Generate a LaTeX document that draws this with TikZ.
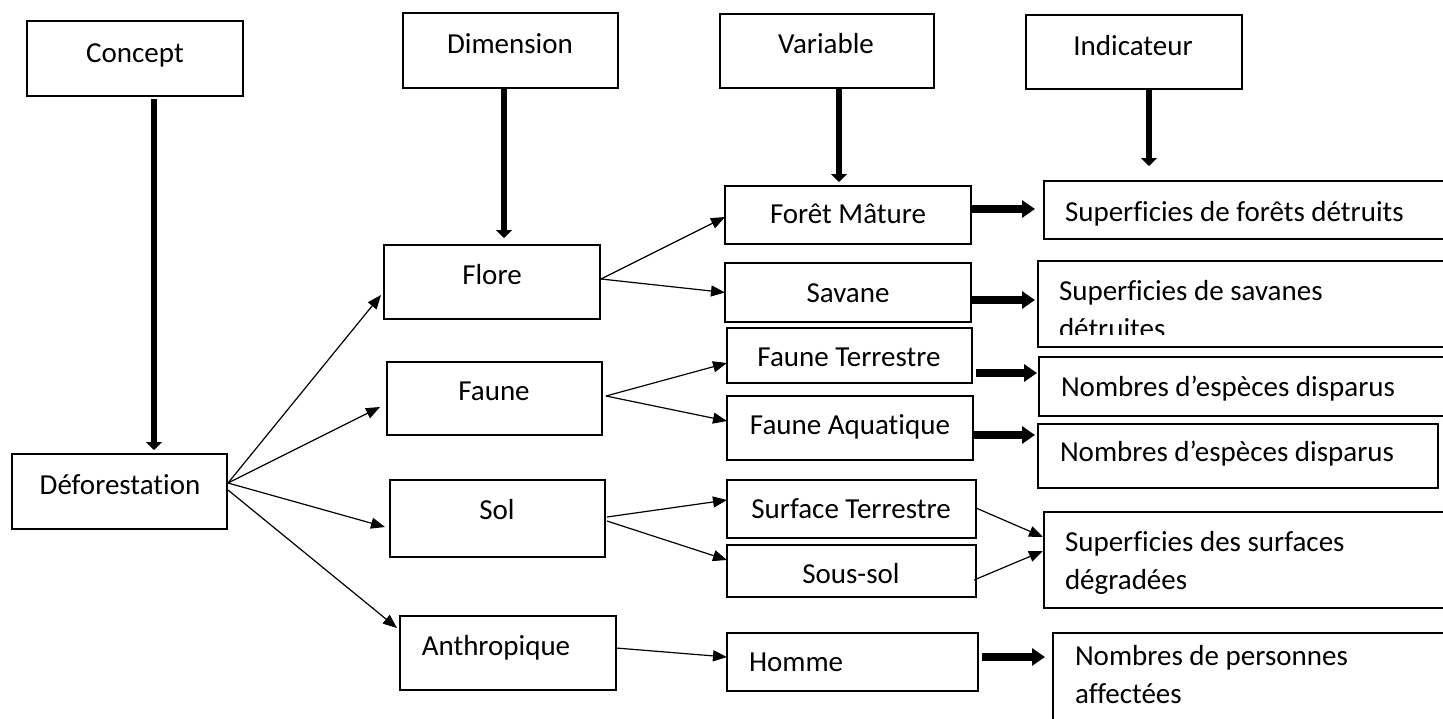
\documentclass[tikz,border=0pt]{standalone}
\usepackage{fontspec}
\setmainfont{Carlito}[Ligatures={NoCommon}]
\usetikzlibrary{arrows.meta,calc}
\newcommand\diagfs{\fontsize{29pt}{38pt}\selectfont}
\begin{document}
\begin{tikzpicture}[x=1pt,y=-1pt,
  box/.style={draw, line width=2pt, inner sep=0pt, outer sep=0pt, rectangle},
  txt/.style={font=\diagfs, inner sep=0pt, outer sep=0pt, anchor=base},
  ltxt/.style={font=\diagfs, inner sep=0pt, outer sep=0pt, anchor=base west, align=left},
  thinarr/.style={line width=1.2pt, -{Triangle[length=14pt,width=11pt]}},
  thickh/.style={line width=8pt, -{Triangle[length=13pt,width=17pt]}},
  thickv/.style={line width=6.5pt, -{Triangle[length=8pt,width=16pt]}}]
\useasboundingbox (0,0) rectangle (1443,718);
\clip (0,0) rectangle (1443,718);
\fill[white] (0,0) rectangle (1443,718);

% header boxes
\node[box, minimum width=216pt, minimum height=75pt] (concept) at (135,58.5) {};
\node[box, minimum width=215pt, minimum height=75pt] (dimension) at (510.5,50.5) {};
\node[box, minimum width=214pt, minimum height=74pt] (variable) at (827,51) {};
\node[box, minimum width=216pt, minimum height=74pt] (indicateur) at (1134,52) {};
% concept / dimension boxes
\node[box, minimum width=215pt, minimum height=75pt] (defo) at (119.5,491.5) {};
\node[box, minimum width=216pt, minimum height=74pt] (flore) at (492,282) {};
\node[box, minimum width=215pt, minimum height=73pt] (faune) at (494.5,398.5) {};
\node[box, minimum width=215pt, minimum height=77pt] (sol) at (497.5,518.5) {};
\node[box, minimum width=216pt, minimum height=74pt] (anthro) at (508,653) {};
% variable boxes
\node[box, minimum width=246pt, minimum height=58pt] (foret) at (848,215) {};
\node[box, minimum width=246pt, minimum height=59pt] (savane) at (848,292.5) {};
\node[box, minimum width=245pt, minimum height=55pt] (fterr) at (849.5,355.5) {};
\node[box, minimum width=246pt, minimum height=64pt] (faqua) at (850,428) {};
\node[box, minimum width=249pt, minimum height=58pt] (sterr) at (851.5,509) {};
\node[box, minimum width=249pt, minimum height=52pt] (soussol) at (851.5,571) {};
\node[box, minimum width=251pt, minimum height=58pt] (homme) at (852.5,662) {};
% indicator boxes
\node[box, minimum width=408pt, minimum height=58pt] (supfor) at (1248,210) {};
\node[box, minimum width=414pt, minimum height=86pt] (supsav) at (1245,304) {};
\node[box, minimum width=413pt, minimum height=59pt] (nomb1) at (1245.5,386.5) {};
\node[box, minimum width=400pt, minimum height=64pt] (nomb2) at (1238,456) {};
\node[box, minimum width=408pt, minimum height=96pt] (supsurf) at (1248,560) {};
\node[box, minimum width=399pt, minimum height=95pt] (pers) at (1252.5,680.5) {};

% texts
\node[txt] (conceptT) at (135,62) {Concept};
\node[txt] (dimensionT) at (510,53) {Dimension};
\node[txt] (variableT) at (826,53) {Variable};
\node[txt] (indicT) at (1133,55) {Indicateur};
\node[txt] (defoT) at (120,494) {Déforestation};
\node[txt] (floreT) at (492,284) {Flore};
\node[txt] (fauneT) at (494,400) {Faune};
\node[txt] (solT) at (497,519) {Sol};
\node[txt] (anthroT) at (496,655) {Anthropique};
\node[txt] (foretT) at (848,223) {Forêt Mâture};
\node[txt] (savaneT) at (848,302) {Savane};
\node[txt] (fterrT) at (849,366) {Faune Terrestre};
\node[txt] (faquaT) at (850,434) {Faune Aquatique};
\node[txt] (sterrT) at (851,518) {Surface Terrestre};
\node[txt] (soussolT) at (851,583) {Sous-sol};
\node[ltxt] (hommeT) at (749,671) {Homme};
\node[ltxt] (supforT) at (1065,221) {Superficies de forêts détruits};
\begin{scope}
\clip (1030,255) rectangle (1443,334);
\node[ltxt] (supsavT) at (1059,338) {Superficies de savanes\\détruites};
\end{scope}
\node[ltxt] (nomb1T) at (1061,396) {Nombres d’espèces disparus};
\node[ltxt] (nomb2T) at (1060,461) {Nombres d’espèces disparus};
\node[ltxt] (supsurfT) at (1065,589) {Superficies des surfaces\\dégradées};
\node[ltxt] (persT) at (1075,703) {Nombres de personnes\\affectées};

% thick vertical arrows
\coordinate (indtip) at (1149,166);
\draw[thickv] ($(concept.south)+(19,3)$) -- ($(defo.north)+(34.5,-4)$);
\draw[thickv] ($(dimension.south)+(-6.5,0)$) -- ($(flore.north)+(12,-7)$);
\draw[thickv] ($(variable.south)+(12,0)$) -- ($(foret.north)+(-9,-4)$);
\draw[thickv] ($(indicateur.south)+(15,0)$) -- (indtip);

% thin arrows
\draw[thinarr] ($(defo.east)+(1,-8.5)$) -- ($(flore.west)+(-3,13)$);
\draw[thinarr] ($(defo.east)+(1,-8.5)$) -- ($(faune.west)+(-7,8.5)$);
\draw[thinarr] ($(defo.east)+(1,-8.5)$) -- ($(sol.west)+(-5,8.5)$);
\draw[thinarr] ($(defo.east)+(1,-1.5)$) -- ($(anthro.north west)+(-3,12)$);
\draw[thinarr] ($(flore.east)+(1,-3)$) -- ($(foret.west)+(0,2)$);
\draw[thinarr] ($(flore.east)+(1,-3)$) -- (savane.west);
\draw[thinarr] ($(faune.east)+(4,-2.5)$) -- ($(fterr.west)+(0,7.5)$);
\draw[thinarr] ($(faune.east)+(4,-2.5)$) -- ($(faqua.west)+(0,-7)$);
\draw[thinarr] ($(sol.east)+(2,-1.5)$) -- ($(sterr.west)+(0,-9)$);
\draw[thinarr] ($(sol.east)+(2,2.5)$) -- ($(soussol.west)+(0,-11)$);
\draw[thinarr] ($(anthro.east)+(0,-5)$) -- ($(homme.west)+(0,-5)$);
\draw[thinarr] ($(sterr.east)+(0,-1)$) -- ($(supsurf.west)+(-1,-23)$);
\draw[thinarr] ($(soussol.east)+(-2,9)$) -- ($(supsurf.west)+(-1,-9)$);

% thick horizontal arrows
\draw[thickh] ($(foret.east)+(0,-6)$) -- ($(supfor.west)+(-9,-1)$);
\draw[thickh] ($(savane.east)+(0,7.5)$) -- ($(supsav.west)+(-3,-4)$);
\draw[thickh] ($(fterr.east)+(4,17.5)$) -- ($(nomb1.west)+(-2,-13.5)$);
\draw[thickh] ($(faqua.east)+(0,7)$) -- ($(nomb2.west)+(-3,-21)$);
\draw[thickh] ($(homme.east)+(4,-5)$) -- ($(pers.west)+(-8,-23.5)$);
\end{tikzpicture}
\end{document}
